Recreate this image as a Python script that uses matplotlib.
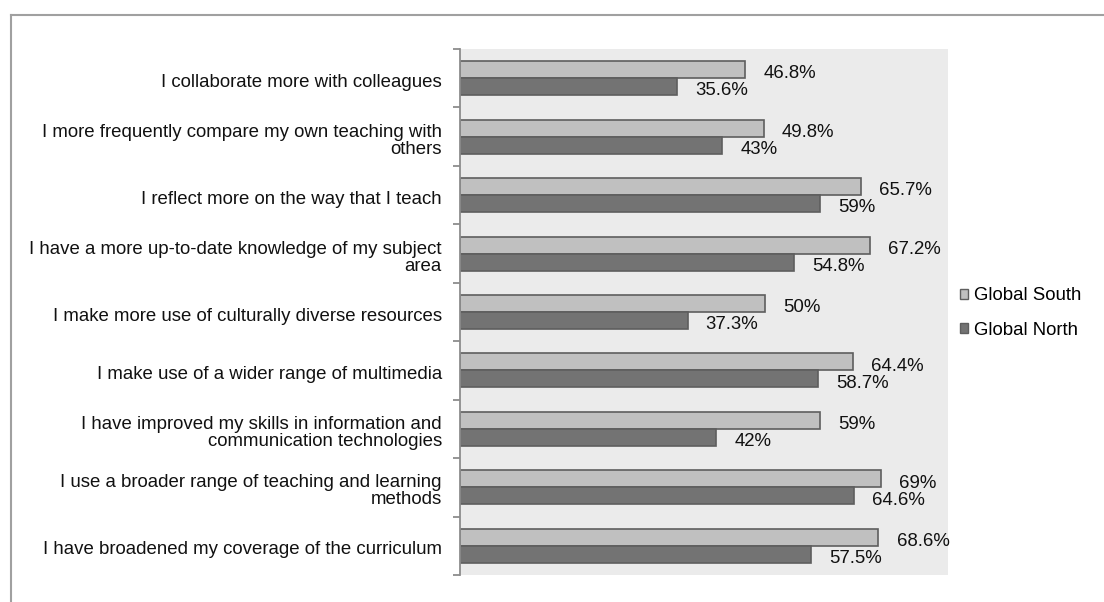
import numpy as np
import matplotlib
matplotlib.use("Agg")
import matplotlib.pyplot as plt
import matplotlib.transforms as mtransforms
from matplotlib.patches import Patch
from matplotlib.lines import Line2D

plt.rcParams["font.family"] = ["Liberation Sans", "DejaVu Sans"]

categories = [
    "I collaborate more with colleagues",
    "I more frequently compare my own teaching with\nothers",
    "I reflect more on the way that I teach",
    "I have a more up-to-date knowledge of my subject\narea",
    "I make more use of culturally diverse resources",
    "I make use of a wider range of multimedia",
    "I have improved my skills in information and\ncommunication technologies",
    "I use a broader range of teaching and learning\nmethods",
    "I have broadened my coverage of the curriculum",
]
global_south = [46.8, 49.8, 65.7, 67.2, 50, 64.4, 59, 69, 68.6]
global_north = [35.6, 43, 59, 54.8, 37.3, 58.7, 42, 64.6, 57.5]
series_names = ["Global South", "Global North"]

SOUTH_COLOR = "#c0c0c0"
NORTH_COLOR = "#737373"
EDGE_COLOR = "#5e5e5e"
AXIS_GRAY = "#8c8c8c"
FS = 13.4

fig = plt.figure(figsize=(11.04, 6.02), dpi=100)
ax = fig.add_axes([460 / 1104, 1 - 575 / 602, 488 / 1104, 526 / 602])
ax.set_facecolor("#ebebeb")

y = np.arange(len(categories))
bar_h = 0.29
south_bars = ax.barh(y - bar_h / 2, global_south, height=bar_h, color=SOUTH_COLOR,
                     edgecolor=EDGE_COLOR, linewidth=1.2)
north_bars = ax.barh(y + bar_h / 2, global_north, height=bar_h, color=NORTH_COLOR,
                     edgecolor=EDGE_COLOR, linewidth=1.2)

# value labels just right of each bar
for bars, vals in [(south_bars, global_south), (north_bars, global_north)]:
    for bar, v in zip(bars, vals):
        ax.annotate(f"{v:g}%", xy=(v, bar.get_y() + bar.get_height() / 2),
                    xytext=(13, -6.3), textcoords="offset points",
                    ha="left", va="baseline", fontsize=FS, color="#111111")

ax.set_xlim(0, 80)
ax.set_ylim(len(categories) - 0.5, -0.5)

ax.set_yticks(y)
ax.set_yticklabels(categories, fontsize=FS, linespacing=1.0, color="#111111")
ax.set_yticks(np.arange(len(categories) + 1) - 0.5, minor=True)
ax.tick_params(axis="y", which="major", length=0, pad=13)
ax.tick_params(axis="y", which="minor", length=5, width=1.3, color=AXIS_GRAY, direction="out")
ax.xaxis.set_visible(False)

# nudge category labels slightly down
shift = mtransforms.ScaledTranslation(0, -1.5 / 72, fig.dpi_scale_trans)
for lab in ax.get_yticklabels():
    lab.set_transform(lab.get_transform() + shift)

for side in ["top", "right", "bottom"]:
    ax.spines[side].set_visible(False)
ax.spines["left"].set_color(AXIS_GRAY)
ax.spines["left"].set_linewidth(1.3)

handles = [
    Patch(facecolor=SOUTH_COLOR, edgecolor=EDGE_COLOR, linewidth=1.0),
    Patch(facecolor=NORTH_COLOR, edgecolor=EDGE_COLOR, linewidth=1.0),
]
fig.legend(handles, series_names, loc="center left",
           bbox_to_anchor=(960 / 1104, 1 - 313 / 602), frameon=False,
           fontsize=FS, handlelength=0.45, handleheight=0.45,
           handletextpad=0.3, labelspacing=0.95, borderpad=0, borderaxespad=0)

# outer chart border (top and left edges visible)
fig.add_artist(Line2D([11 / 1104, 1.0], [1 - 15 / 602, 1 - 15 / 602],
                      transform=fig.transFigure, color="#a0a0a0", linewidth=1.5))
fig.add_artist(Line2D([11 / 1104, 11 / 1104], [0.0, 1 - 15 / 602],
                      transform=fig.transFigure, color="#a0a0a0", linewidth=1.5))

fig.savefig("out.png", dpi=100)
